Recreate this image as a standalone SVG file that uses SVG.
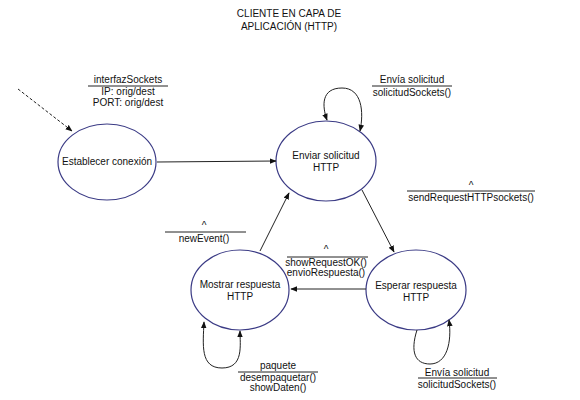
<svg xmlns="http://www.w3.org/2000/svg" width="580" height="400" viewBox="0 0 580 400">
<defs>
<style>
text{font-family:"Liberation Sans",Arial,sans-serif;font-size:10px;fill:#111;text-anchor:middle}
.st{fill:#fff;stroke:#3b3b85;stroke-width:1.2}
.e{fill:none;stroke:#222;stroke-width:1}
.bar{stroke:#222;stroke-width:1}
</style>
<marker id="ah" viewBox="0 0 10 10" refX="9" refY="5" markerWidth="7" markerHeight="7" orient="auto">
<path d="M0,1 L10,5 L0,9 z" fill="#111"/>
</marker>
</defs>
<rect width="580" height="400" fill="#fff"/>
<text x="289" y="17">CLIENTE EN CAPA DE</text>
<text x="289" y="30">APLICACIÓN (HTTP)</text>

<g id="n-establecer">
<ellipse class="st" cx="107" cy="162" rx="49" ry="38"/>
<text x="107" y="165">Establecer conexión</text>
</g>
<g id="n-enviar">
<ellipse class="st" cx="326" cy="161" rx="50" ry="40"/>
<text x="326" y="159">Enviar solicitud</text>
<text x="326" y="171">HTTP</text>
</g>
<g id="n-esperar">
<ellipse class="st" cx="416" cy="290" rx="50" ry="40"/>
<text x="416" y="289">Esperar respuesta</text>
<text x="416" y="301">HTTP</text>
</g>
<g id="n-mostrar">
<ellipse class="st" cx="240" cy="290" rx="49" ry="40"/>
<text x="240" y="288">Mostrar respuesta</text>
<text x="240" y="300">HTTP</text>
</g>

<g id="connectors">
<path class="e" d="M18,89 L72,131" stroke-dasharray="3,2" marker-end="url(#ah)"/>
<path class="e" d="M157,162 L276,161" marker-end="url(#ah)"/>
<path class="e" d="M342,88 C321,88 322,106 327,120" marker-end="url(#ah)"/>
<path class="e" d="M342,88 C362,88 364,112 360,131" marker-end="url(#ah)"/>
<path class="e" d="M362,190 L394,252" marker-end="url(#ah)"/>
<path class="e" d="M366,289 L291,289" marker-end="url(#ah)"/>
<path class="e" d="M260,251 L289,193" marker-end="url(#ah)"/>
<path class="e" d="M222,368 C200,368 203,345 204,322" marker-end="url(#ah)"/>
<path class="e" d="M222,368 C244,368 240,345 240,331" marker-end="url(#ah)"/>
<path class="e" d="M417,330 C410,352 415,364 430,364 C447,364 452,342 449,320" marker-end="url(#ah)"/>
</g>

<g id="labels">
<text x="128" y="83">interfazSockets</text>
<line class="bar" x1="88" y1="86" x2="168" y2="86"/>
<text x="128" y="95">IP: orig/dest</text>
<text x="128" y="106">PORT: orig/dest</text>

<text x="412" y="83">Envía solicitud</text>
<line class="bar" x1="372" y1="86" x2="452" y2="86"/>
<text x="412" y="96">solicitudSockets()</text>

<text x="471" y="189">^</text>
<line class="bar" x1="407" y1="191" x2="535" y2="191"/>
<text x="471" y="201">sendRequestHTTPsockets()</text>

<text x="204" y="229">^</text>
<line class="bar" x1="165" y1="232" x2="246" y2="232"/>
<text x="204" y="242">newEvent()</text>

<text x="326" y="253">^</text>
<line class="bar" x1="287" y1="257" x2="368" y2="257"/>
<text x="326" y="266">showRequestOK()</text>
<text x="326" y="276">envioRespuesta()</text>

<text x="278" y="369">paquete</text>
<line class="bar" x1="238" y1="372" x2="318" y2="372"/>
<text x="278" y="381">desempaquetar()</text>
<text x="278" y="391">showDaten()</text>

<text x="457" y="376">Envía solicitud</text>
<line class="bar" x1="418" y1="378" x2="497" y2="378"/>
<text x="457" y="388">solicitudSockets()</text>
</g>
</svg>
